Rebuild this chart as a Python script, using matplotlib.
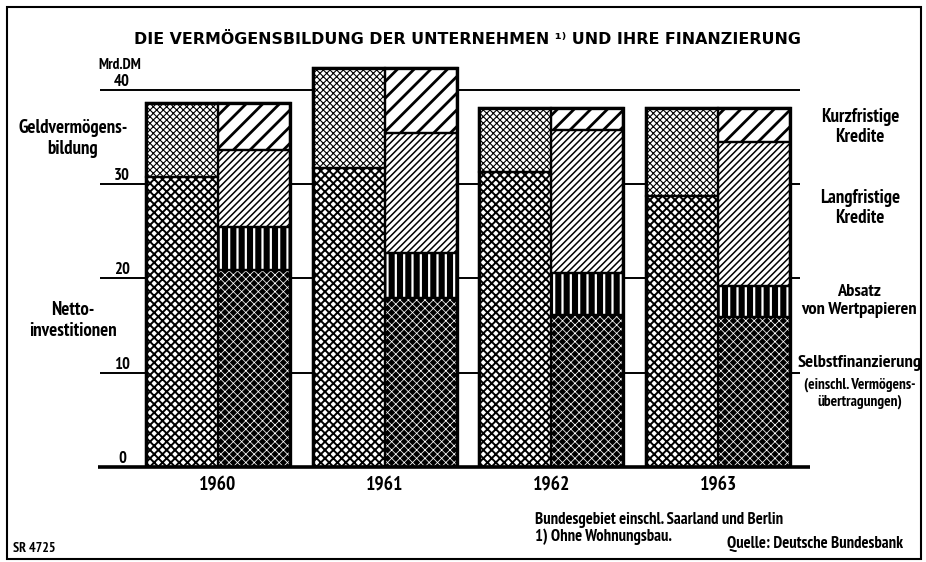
import numpy as np
import matplotlib
matplotlib.use('Agg')
import matplotlib.pyplot as plt
from matplotlib.patches import Rectangle

years = ['1960', '1961', '1962', '1963']

# Verwendung (linke Saeule), Mrd. DM
netto = [30.8, 31.7, 31.3, 28.7]
geld = [7.8, 10.6, 6.8, 9.4]

# Finanzierung (rechte Saeule), Mrd. DM
selbst = [20.9, 17.9, 16.1, 15.9]
absatz = [4.5, 4.8, 4.5, 3.3]
lang = [8.2, 12.7, 15.1, 15.3]
kurz = [5.0, 6.9, 2.4, 3.6]

yticks = [0, 10, 20, 30, 40]

narrow = ['PT Sans Narrow', 'Roboto Condensed', 'Archivo Narrow',
          'Liberation Sans Narrow', 'DejaVu Sans']
plt.rcParams['font.family'] = narrow
plt.rcParams['font.weight'] = 'bold'

W, H = 926, 562
fig = plt.figure(figsize=(W / 100, H / 100), dpi=100)
ax = fig.add_axes([98 / W, (H - 467) / H, (810 - 98) / W, (467 - 60) / H])
ax.set_xlim(-0.72, 3.551)
ax.set_ylim(0, 43.16)
ax.axis('off')

x = np.arange(len(years))
w = 0.432


def seg(xpos, vals, bottom, face, hcol, hatch, hlw):
    plt.rcParams['hatch.linewidth'] = hlw
    ax.bar(xpos, vals, w, bottom=bottom, color=face, edgecolor=hcol,
           hatch=hatch, linewidth=0, zorder=2)
    ax.bar(xpos, vals, w, bottom=bottom, fill=False, edgecolor='black',
           linewidth=1.6, zorder=3)


xl = x - w / 2
xr = x + w / 2
netto_a = np.array(netto)
selbst_a = np.array(selbst)
absatz_a = np.array(absatz)
lang_a = np.array(lang)

# linke Saeule: Nettoinvestitionen + Geldvermoegensbildung
seg(xl, netto, 0, 'white', 'black', 'xxxx', 1.4)
seg(xl, geld, netto_a, 'white', 'black', 'xxxxx', 0.8)

# rechte Saeule: Finanzierung
seg(xr, selbst, 0, 'black', 'white', 'xxxx', 0.55)
seg(xr, absatz, selbst_a, 'black', 'white', '||', 1.6)
seg(xr, lang, selbst_a + absatz_a, 'white', 'black', '/////', 1.1)
seg(xr, kurz, selbst_a + absatz_a + lang_a, 'white', 'black', '//', 2.0)

# Rahmen um jedes Saeulenpaar
totals = netto_a + np.array(geld)
ax.bar(x, totals, 2 * w, fill=False, edgecolor='black', linewidth=2.4, zorder=4)

# Hilfslinien und Grundlinie
ax.hlines(yticks[1:], -0.708, 3.491, color='black', linewidth=1.4, zorder=1)
ax.hlines(0, -0.72, 3.551, color='black', linewidth=2.6, zorder=5, clip_on=False)

for v in yticks:
    ax.text(-0.576, v + 0.85, str(v), ha='center', va='center', fontsize=12)
ax.text(-0.588, 42.6, 'Mrd.DM', ha='center', va='center', fontsize=11)

for i, yr in enumerate(years):
    ax.text(x[i], -1.9, yr, ha='center', va='center', fontsize=14)

# Beschriftung links
ax.text(-0.87, 34.8, 'Geldvermögens-\nbildung', ha='center', va='center',
        fontsize=13.5, linespacing=1.2)
ax.text(-0.87, 15.5, 'Netto-\ninvestitionen', ha='center', va='center',
        fontsize=13.5, linespacing=1.2)

# Beschriftung rechts
ax.text(3.851, 36.05, 'Kurzfristige\nKredite', ha='center', va='center',
        fontsize=13.5, linespacing=1.2)
ax.text(3.851, 27.47, 'Langfristige\nKredite', ha='center', va='center',
        fontsize=13.5, linespacing=1.2)
ax.text(3.845, 17.6, 'Absatz\nvon Wertpapieren', ha='center', va='center',
        fontsize=13.2, linespacing=1.2)
ax.text(3.851, 11.0, 'Selbstfinanzierung', ha='center', va='center', fontsize=13.3)
ax.text(3.851, 7.85, '(einschl. Vermögens-\nübertragungen)', ha='center',
        va='center', fontsize=11, linespacing=1.2)

fig.text(467 / W, 1 - 40 / H,
         'DIE VERMÖGENSBILDUNG DER UNTERNEHMEN ¹⁾ UND IHRE FINANZIERUNG',
         ha='center', va='center', fontsize=11.4, family='DejaVu Sans')

fig.text(535 / W, 1 - 520 / H, 'Bundesgebiet einschl. Saarland und Berlin',
         ha='left', va='center', fontsize=12)
fig.text(535 / W, 1 - 537 / H, '1) Ohne Wohnungsbau.',
         ha='left', va='center', fontsize=12)
fig.text(727 / W, 1 - 544 / H, 'Quelle: Deutsche Bundesbank',
         ha='left', va='center', fontsize=12)
fig.text(13 / W, 1 - 548 / H, 'SR 4725', ha='left', va='center', fontsize=10)

fig.add_artist(Rectangle((7 / W, 3 / H), (921 - 7) / W, (559 - 7) / H,
                         transform=fig.transFigure, fill=False,
                         edgecolor='black', linewidth=1.5))

fig.savefig('out.png', dpi=100)
